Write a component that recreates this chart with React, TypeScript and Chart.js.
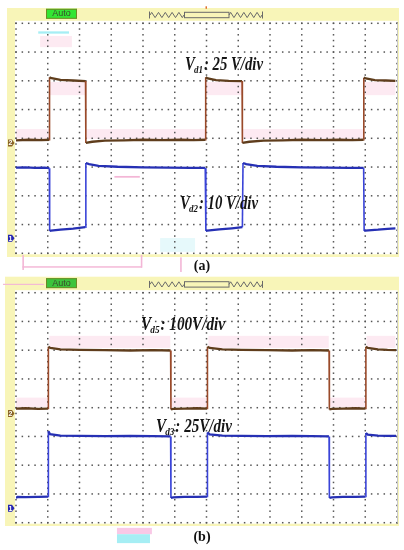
import React, { useEffect, useRef } from "react";
import { Chart, registerables } from "chart.js";

Chart.register(...registerables);

// ---------- DATA (x, y in oscilloscope divisions: 12 x 8 grid) ----------
// Panel (a)
const vd1X = [0, 0.4, 0.8, 1.05, 1.056, 1.12, 1.4, 1.8, 2.19, 2.2, 2.4, 2.8, 3.4, 4.0, 4.6, 5.2, 5.6, 5.97, 5.975, 6.04, 6.3, 6.7, 7.12, 7.13, 7.35, 7.8, 8.4, 9.0, 9.6, 10.2, 10.6, 10.95, 10.955, 11.02, 11.3, 11.65, 11.95];
const vd1Y = [3.93, 3.95, 3.94, 3.95, 6.12, 6.09, 6.03, 6.01, 5.99, 3.84, 3.88, 3.92, 3.93, 3.95, 3.94, 3.95, 3.94, 3.95, 6.12, 6.08, 6.02, 6.0, 5.99, 3.84, 3.88, 3.92, 3.93, 3.95, 3.94, 3.95, 3.94, 3.95, 6.11, 6.08, 6.02, 6.01, 6.0];

const vd2X = [0, 0.3, 0.6, 0.9, 1.05, 1.06, 1.1, 1.4, 1.8, 2.18, 2.2, 2.3, 2.6, 3.2, 4.0, 4.8, 5.5, 5.96, 5.98, 6.02, 6.4, 6.8, 7.13, 7.15, 7.25, 7.6, 8.2, 9.0, 9.8, 10.5, 10.95, 10.965, 11.0, 11.4, 11.7, 11.95];
const vd2Y = [2.98, 2.99, 2.97, 2.98, 2.96, 0.78, 0.79, 0.82, 0.86, 0.91, 3.14, 3.1, 3.04, 3.01, 2.99, 2.98, 2.97, 2.97, 0.78, 0.79, 0.83, 0.87, 0.91, 3.14, 3.1, 3.04, 3.01, 2.99, 2.98, 2.97, 2.97, 0.78, 0.79, 0.82, 0.85, 0.87];

// Panel (b)
const vd5X = [0, 0.3, 0.7, 1.01, 1.02, 1.08, 1.4, 2.0, 2.8, 3.6, 4.3, 4.87, 4.88, 4.95, 5.3, 5.7, 6.02, 6.03, 6.1, 6.5, 7.1, 7.9, 8.7, 9.3, 9.86, 9.87, 9.95, 10.3, 10.7, 11.01, 11.02, 11.08, 11.4, 11.7, 11.97];
const vd5Y = [3.97, 3.98, 3.96, 3.97, 6.12, 6.08, 6.03, 6.01, 6.0, 5.99, 6.0, 5.99, 3.94, 3.96, 3.97, 3.98, 3.97, 6.12, 6.08, 6.03, 6.01, 6.0, 5.99, 6.0, 5.99, 3.94, 3.96, 3.97, 3.98, 3.97, 6.12, 6.08, 6.03, 6.01, 6.0];

const vd3X = [0, 0.05, 0.3, 0.7, 1.01, 1.02, 1.07, 1.4, 2.0, 2.8, 3.6, 4.3, 4.87, 4.88, 4.95, 5.3, 5.7, 6.02, 6.03, 6.1, 6.5, 7.1, 7.9, 8.7, 9.3, 9.86, 9.87, 9.95, 10.3, 10.7, 11.01, 11.02, 11.08, 11.4, 11.7, 11.97];
const vd3Y = [0.86, 0.9, 0.89, 0.9, 0.91, 3.18, 3.08, 3.03, 3.02, 3.01, 3.02, 3.01, 3.0, 0.86, 0.88, 0.9, 0.9, 0.91, 3.14, 3.07, 3.03, 3.02, 3.01, 3.02, 3.01, 3.0, 0.86, 0.88, 0.9, 0.9, 0.91, 3.12, 3.06, 3.03, 3.02, 3.02];

// Ground reference markers (channel number, level in divisions)
const markerNames = ["2", "1"];
const markerLevelsA = [3.84, 0.52];
const markerLevelsB = [3.8, 0.5];

// Trace labels
const labelsA = [
  { main: "V", sub: "d1", rest: ": 25 V/div" },
  { main: "V", sub: "d2", rest: ": 10 V/div" },
];
const labelsB = [
  { main: "V", sub: "d5", rest: ": 100V/div" },
  { main: "V", sub: "d3", rest: ": 25V/div" },
];
const captionA = "(a)";
const captionB = "(b)";
const modeText = "Auto";

// ---------- STYLE ----------
const BROWN = "#5f3d1c";
const BROWN_EDGE = "#9a4a2a";
const BLUE = "#2630b4";
const BLUE_EDGE = "#3a44d8";
const YELLOW = "#f8f5b8";
const PINK = "#fdeaf2";
const PINK_LINE = "#f3b6d6";
const CYAN = "#a6eef4";
const CYAN_PALE = "#e6f9fb";
const SERIF = '"Liberation Serif", "Times New Roman", serif';

function pts(xs: number[], ys: number[]) {
  return xs.map((x, i) => ({ x, y: ys[i] }));
}

function drawLabel(ctx: CanvasRenderingContext2D, x: number, baseline: number, l: any, width: number) {
  const size = 18;
  const fMain = `italic bold ${size}px ${SERIF}`;
  const fSub = `italic bold ${Math.round(size * 0.62)}px ${SERIF}`;
  ctx.save();
  ctx.fillStyle = "#151515";
  ctx.textAlign = "left";
  ctx.textBaseline = "alphabetic";
  ctx.font = fMain;
  const w1 = ctx.measureText(l.main).width;
  const w3 = ctx.measureText(l.rest).width;
  ctx.font = fSub;
  const w2 = ctx.measureText(l.sub).width;
  const sx = width / (w1 + w2 + w3);
  ctx.translate(x, baseline);
  ctx.scale(sx, 1);
  ctx.font = fMain;
  ctx.fillText(l.main, 0, 0);
  ctx.font = fSub;
  ctx.fillText(l.sub, w1 - 1, 3);
  ctx.font = fMain;
  ctx.fillText(l.rest, w1 + w2, 0);
  ctx.restore();
}

function zigzag(ctx: CanvasRenderingContext2D, x0: number, x1: number, yc: number, teeth: number, h: number) {
  const step = (x1 - x0) / (teeth * 2);
  ctx.moveTo(x0, yc);
  for (let i = 0; i < teeth * 2; i++) {
    const yy = i % 2 === 0 ? yc - h : yc + h;
    ctx.lineTo(x0 + step * (i + 0.5), yy);
  }
  ctx.lineTo(x1, yc);
}

const scopePlugin = {
  id: "scope",
  beforeDraw(chart: any, _args: any, opts: any) {
    const { ctx, chartArea: a, scales } = chart;
    const px = (v: number) => scales.x.getPixelForValue(v);
    const py = (v: number) => scales.y.getPixelForValue(v);
    ctx.save();
    ctx.fillStyle = "#ffffff";
    ctx.fillRect(0, 0, chart.width, chart.height);
    // yellow scope frame
    const f = opts.frame;
    ctx.fillStyle = YELLOW;
    ctx.fillRect(a.left - f[0], a.top - f[1], a.right + f[2] - (a.left - f[0]), a.bottom + f[3] - (a.top - f[1]));
    // white screen
    ctx.fillStyle = "#ffffff";
    ctx.fillRect(a.left - 1, a.top - 2.5, a.right - a.left + 1.5, a.bottom - a.top + 3.5);
    // ghost artefacts
    for (const g of opts.ghosts) {
      ctx.fillStyle = g[4];
      ctx.fillRect(px(g[0]), py(g[3]), px(g[1]) - px(g[0]), py(g[2]) - py(g[3]));
    }
    // dotted graticule
    ctx.fillStyle = "#555555";
    const dot = (x: number, y: number) => ctx.fillRect(x - 0.75, y - 0.75, 1.5, 1.5);
    for (let j = 0; j <= 8; j++) for (let k = 0; k <= 60; k++) dot(px(k / 5), py(j));
    for (let i = 0; i <= 12; i++) for (let k = 0; k <= 40; k++) dot(px(i), py(k / 5));
    ctx.strokeStyle = "#c8c8c8";
    ctx.lineWidth = 1;
    ctx.beginPath();
    ctx.moveTo(a.right + 0.5, a.top);
    ctx.lineTo(a.right + 0.5, a.bottom);
    ctx.stroke();
    // header: Auto box
    const ht = a.top;
    ctx.fillStyle = opts.autoFill;
    ctx.fillRect(46, ht - 14.5, 31, 9.8);
    ctx.strokeStyle = "#6c8a24";
    ctx.strokeRect(46.5, ht - 14, 30, 9);
    ctx.fillStyle = "#3a4a2a";
    ctx.font = '9px "Liberation Sans", Arial, sans-serif';
    ctx.textAlign = "center";
    ctx.textBaseline = "middle";
    ctx.fillText(modeText, 61.5, ht - 9.4);
    // header: time base indicator
    const yc = ht - 8.3;
    ctx.strokeStyle = "#6a6a6a";
    ctx.lineWidth = 1;
    ctx.beginPath();
    ctx.moveTo(149.5, yc - 3.5);
    ctx.lineTo(149.5, yc + 3.5);
    zigzag(ctx, 150, 184, yc, 5, 2.6);
    ctx.moveTo(262.5, yc - 3.5);
    ctx.lineTo(262.5, yc + 3.5);
    ctx.stroke();
    ctx.beginPath();
    zigzag(ctx, 229, 262, yc, 5, 2.6);
    ctx.stroke();
    ctx.strokeRect(184.5, yc - 2.7, 44.5, 5.4);
    if (opts.trigger) {
      ctx.fillStyle = "#e07030";
      ctx.fillRect(205.5, ht - 17, 1.5, 2.5);
    }
    ctx.restore();
  },
  afterDatasetsDraw(chart: any, _args: any, opts: any) {
    const { ctx, chartArea: a, scales } = chart;
    const py = (v: number) => scales.y.getPixelForValue(v);
    ctx.save();
    // ground markers
    opts.markers.forEach((lvl: number, i: number) => {
      const y = py(lvl);
      ctx.fillStyle = i === 0 ? "#8a6426" : "#2626b4";
      ctx.beginPath();
      ctx.moveTo(8, y - 3.5);
      ctx.lineTo(12, y - 3.5);
      ctx.lineTo(14.5, y);
      ctx.lineTo(12, y + 3.5);
      ctx.lineTo(8, y + 3.5);
      ctx.closePath();
      ctx.fill();
      ctx.fillStyle = "#ffffff";
      ctx.font = 'bold 7px "Liberation Sans", Arial, sans-serif';
      ctx.textAlign = "center";
      ctx.textBaseline = "middle";
      ctx.fillText(markerNames[i], 10.5, y + 0.5);
    });
    // trace labels
    opts.labelPos.forEach((p: number[], i: number) => {
      drawLabel(ctx, p[0], p[1], opts.labels[i], p[2]);
    });
    // caption
    ctx.fillStyle = "#111111";
    ctx.font = `bold 14px ${SERIF}`;
    ctx.textAlign = "center";
    ctx.textBaseline = "alphabetic";
    ctx.fillText(opts.caption, 202, a.bottom + opts.captionDy);
    ctx.restore();
  },
};

function makeConfig(series: { xs: number[]; ys: number[]; color: string; edge: string }[], padding: any, scope: any) {
  return {
    type: "scatter" as const,
    data: {
      datasets: series.map((s) => ({
        data: pts(s.xs, s.ys),
        showLine: true,
        borderColor: s.color,
        borderWidth: 2.3,
        pointRadius: 0,
        tension: 0,
        segment: {
          borderColor: (c: any) => (Math.abs(c.p1.parsed.x - c.p0.parsed.x) < 0.025 ? s.edge : undefined),
          borderWidth: (c: any) => (Math.abs(c.p1.parsed.x - c.p0.parsed.x) < 0.025 ? 1.6 : undefined),
        },
      })),
    },
    options: {
      responsive: false,
      animation: false as const,
      devicePixelRatio: 1,
      layout: { padding },
      scales: {
        x: { type: "linear" as const, min: 0, max: 12, display: false },
        y: { type: "linear" as const, min: 0, max: 8, display: false },
      },
      plugins: {
        legend: { display: false },
        tooltip: { enabled: false },
        scope,
      },
    },
    plugins: [scopePlugin],
  };
}

export default function App() {
  const refA = useRef<HTMLCanvasElement>(null);
  const refB = useRef<HTMLCanvasElement>(null);

  useEffect(() => {
    const chartA = new Chart(
      refA.current as HTMLCanvasElement,
      makeConfig(
        [
          { xs: vd1X, ys: vd1Y, color: BROWN, edge: BROWN_EDGE },
          { xs: vd2X, ys: vd2Y, color: BLUE, edge: BLUE_EDGE },
        ],
        { left: 16, right: 7, top: 23.3, bottom: 21.7 },
        {
          frame: [9, 15.3, 2, 3.7],
          autoFill: "#33e633",
          trigger: true,
          markers: markerLevelsA,
          labels: labelsA,
          labelPos: [
            [185, 69.5, 78],
            [180, 208.5, 78],
          ],
          caption: captionA,
          captionDy: 16.7,
          ghosts: [
            [0.76, 1.76, 7.17, 7.56, PINK],
            [0.7, 1.67, 7.64, 7.72, CYAN],
            [1.07, 2.19, 5.5, 5.96, PINK],
            [5.99, 7.12, 5.5, 5.96, PINK],
            [10.97, 11.95, 5.5, 5.96, PINK],
            [0, 1.04, 3.98, 4.32, PINK],
            [2.22, 5.96, 3.98, 4.32, PINK],
            [7.15, 10.94, 3.98, 4.32, PINK],
            [3.1, 3.9, 2.63, 2.69, PINK_LINE],
            [4.54, 5.64, 0.05, 0.53, CYAN_PALE],
            [0.2, 0.25, -0.58, -0.06, PINK_LINE],
            [0.2, 3.97, -0.5, -0.45, PINK_LINE],
            [3.93, 3.98, -0.5, -0.06, PINK_LINE],
            [5.17, 5.22, -0.65, -0.14, PINK_LINE],
          ],
        }
      ) as any
    );
    const chartB = new Chart(
      refB.current as HTMLCanvasElement,
      makeConfig(
        [
          { xs: vd5X, ys: vd5Y, color: BROWN, edge: BROWN_EDGE },
          { xs: vd3X, ys: vd3Y, color: BLUE, edge: BLUE_EDGE },
        ],
        { left: 16, right: 7, top: 17.7, bottom: 27.3 },
        {
          frame: [11, 16, 2, 3.3],
          autoFill: "#3cc43c",
          trigger: false,
          markers: markerLevelsB,
          labels: labelsB,
          labelPos: [
            [141, 55, 84],
            [156, 156.5, 76],
          ],
          caption: captionB,
          captionDy: 18.3,
          ghosts: [
            [1.05, 4.86, 6.08, 6.5, PINK],
            [6.06, 9.85, 6.08, 6.5, PINK],
            [11.04, 11.95, 6.08, 6.5, PINK],
            [0, 1.0, 4.02, 4.35, PINK],
            [4.9, 6.01, 4.02, 4.35, PINK],
            [9.89, 11.0, 4.02, 4.35, PINK],
            [-0.41, 0.88, 8.27, 8.31, PINK_LINE],
            [3.18, 4.28, -0.4, -0.18, "#f9c8e6"],
            [3.18, 4.22, -0.71, -0.4, CYAN],
          ],
        }
      ) as any
    );
    return () => {
      chartA.destroy();
      chartB.destroy();
    };
  }, []);

  return (
    <div style={{ position: "absolute", left: 0, top: 0, width: 404, height: 550, background: "#fff" }}>
      <canvas ref={refA} width={404} height={275} style={{ position: "absolute", left: 0, top: 0, display: "block" }} />
      <canvas ref={refB} width={404} height={275} style={{ position: "absolute", left: 0, top: 275, display: "block" }} />
    </div>
  );
}
